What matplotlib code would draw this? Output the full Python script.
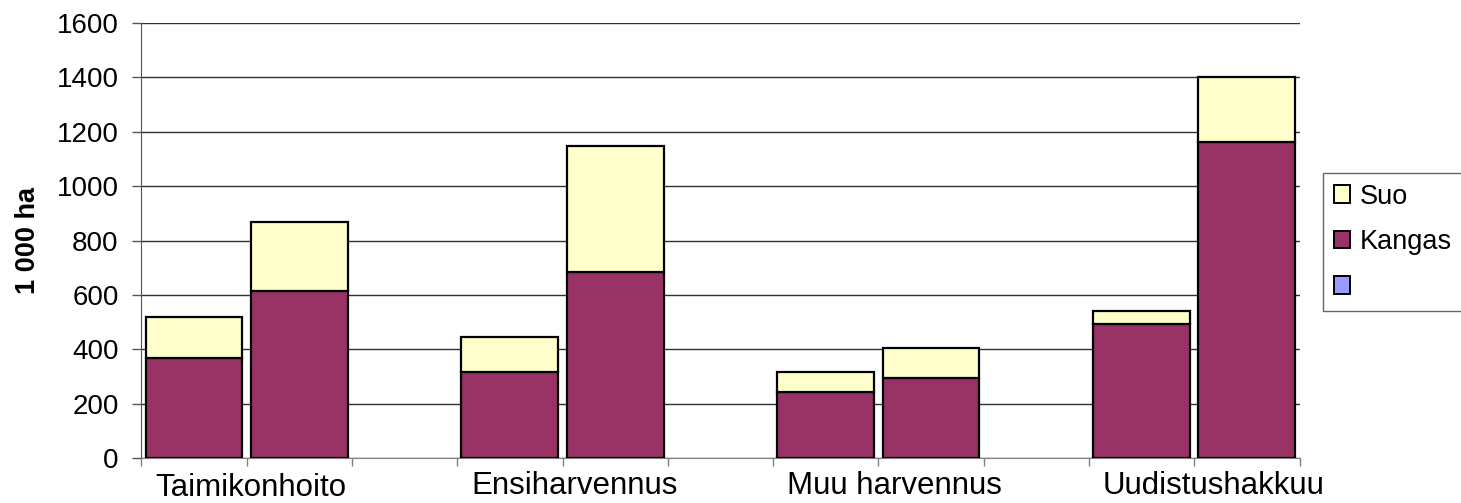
import matplotlib
matplotlib.use("Agg")
import matplotlib.pyplot as plt
import matplotlib.transforms as mtransforms
from matplotlib.patches import Patch
import numpy as np

plt.rcParams['font.family'] = ['Liberation Sans', 'DejaVu Sans']

# two bars per category, Kangas at the bottom, Suo stacked on top (1 000 ha)
categories = ["Taimikonhoito", "Ensiharvennus", "Muu harvennus", "Uudistushakkuu"]
kangas = [[368, 615], [318, 683], [245, 294], [492, 1163]]
suo = [[150, 252], [127, 465], [73, 112], [49, 237]]

series_names = ["Suo", "Kangas", ""]
series_colors = ["#FFFFCC", "#993366", "#9999FF"]

y_ticks = list(range(0, 1601, 200))

fig = plt.figure(figsize=(14.61, 5.03), dpi=100)
ax = fig.add_axes([0.0968, 0.0889, 0.7927, 0.8654])

# each category takes 3 slots: two bars + one empty slot
x = np.array([g * 3 + j for g in range(len(categories)) for j in range(2)])
k = np.array(kangas).ravel()
s = np.array(suo).ravel()

ax.bar(x, k, width=0.92, color=series_colors[1], edgecolor="black",
       linewidth=1.6, zorder=3)
ax.bar(x, s, bottom=k, width=0.92, color=series_colors[0], edgecolor="black",
       linewidth=1.6, zorder=3)

ax.set_xlim(-0.5, 3 * len(categories) - 1.5)
ax.set_ylim(0, 1600)
ax.set_yticks(y_ticks)
ax.set_xticks(np.arange(-0.5, 3 * len(categories) - 1, 1))
ax.set_xticklabels([])

ax.grid(axis="y", color="#303030", linewidth=1.0, zorder=0)
ax.set_axisbelow(True)
for side in ["top", "right"]:
    ax.spines[side].set_visible(False)
ax.spines["left"].set_color("#555555")
ax.spines["bottom"].set_color("#808080")
ax.tick_params(axis="y", length=6.5, width=1, pad=10, labelsize=20,
               color="#555555")
ax.tick_params(axis="x", length=5.5, width=1, color="#808080")

ax.set_ylabel("1 000 ha", fontsize=19.5, fontweight="bold", labelpad=11)

# category names, left aligned near the start of each group
trans = mtransforms.blended_transform_factory(ax.transData, ax.transAxes)
label_y = [-0.086, -0.082, -0.082, -0.082]
for g, name in enumerate(categories):
    ax.text(g * 3 - 0.5 + 0.13, label_y[g], name, transform=trans,
            ha="left", va="baseline", fontsize=22.5)

handles = [Patch(facecolor=c, edgecolor="black", linewidth=1.4)
           for c in series_colors]
leg = fig.legend(handles, series_names, loc="upper left",
                 bbox_to_anchor=(1323 / 1461, 1 - 172.7 / 503),
                 fontsize=19.5, frameon=True, fancybox=False,
                 edgecolor="#404040", borderpad=0.4, labelspacing=0.72,
                 handlelength=0.6, handleheight=0.6, handletextpad=0.35,
                 borderaxespad=0)
leg.get_frame().set_linewidth(1.0)

fig.savefig("out.png", dpi=100)
